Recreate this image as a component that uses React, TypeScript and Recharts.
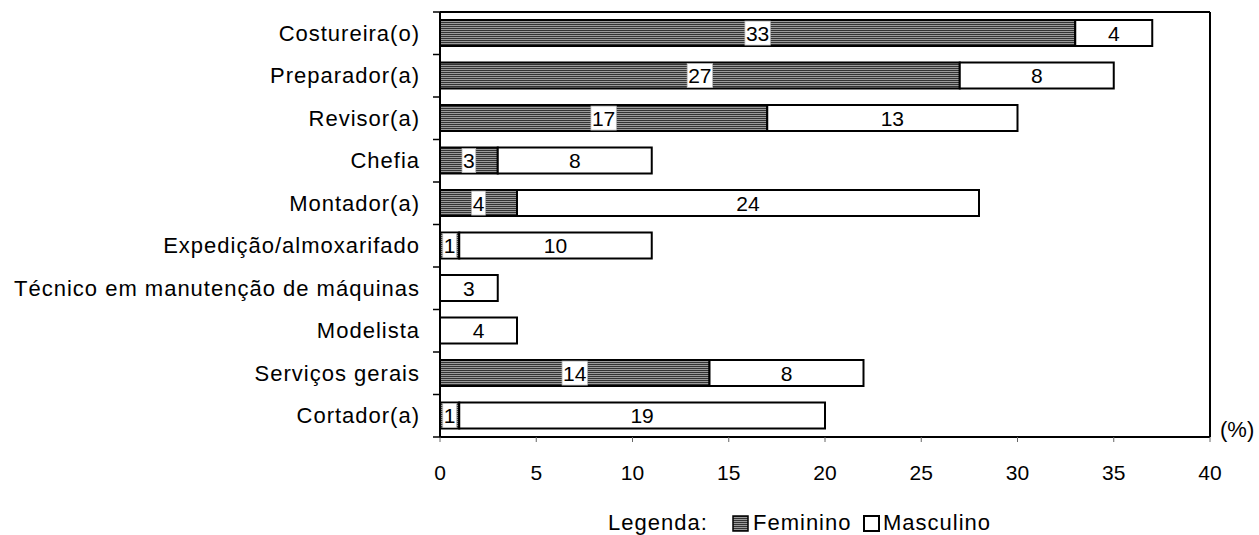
import { BarChart, Bar, XAxis, YAxis, LabelList } from 'recharts';

const categories = [
  'Costureira(o)',
  'Preparador(a)',
  'Revisor(a)',
  'Chefia',
  'Montador(a)',
  'Expedição/almoxarifado',
  'Técnico em manutenção de máquinas',
  'Modelista',
  'Serviços gerais',
  'Cortador(a)',
];
const feminino = [33, 27, 17, 3, 4, 1, 0, 0, 14, 1];
const masculino = [4, 8, 13, 8, 24, 10, 3, 4, 8, 19];
const xTicks = [0, 5, 10, 15, 20, 25, 30, 35, 40];

const data = categories.map((name, i) => ({
  name,
  feminino: feminino[i],
  masculino: masculino[i],
}));

const FONT = '"Liberation Sans", Arial, sans-serif';
const LABEL_GAP = 20;

function FemLabel(props: any) {
  const { x, y, width, height, value } = props;
  if (!value) return null;
  const cx = x + width / 2;
  const w = String(value).length * 11.7 + 2;
  return (
    <g>
      <rect x={cx - w / 2} y={y + 1} width={w} height={height - 2} fill="#fff" stroke="#bbb" strokeWidth={0.75} />
      <text x={cx} y={y + height / 2 + 7.5} textAnchor="middle" fontSize={21} fontFamily={FONT} fill="#000">
        {value}
      </text>
    </g>
  );
}

function MascLabel(props: any) {
  const { x, y, width, height, value } = props;
  if (!value) return null;
  return (
    <text x={x + width / 2} y={y + height / 2 + 7.5} textAnchor="middle" fontSize={21} fontFamily={FONT} fill="#000">
      {value}
    </text>
  );
}

// category label plus Excel-style tick marks on the band edges
function CatTick(props: any) {
  const { x, y, payload, index } = props;
  const half = payload?.offset ?? 0;
  const ax = x + LABEL_GAP;
  const last = index === categories.length - 1;
  return (
    <g>
      <line x1={ax - 7} x2={ax} y1={y - half} y2={y - half} stroke="#000" strokeWidth={1.5} />
      {last && <line x1={ax - 7} x2={ax} y1={y + half} y2={y + half} stroke="#000" strokeWidth={1.5} />}
      <text x={x} y={y + 7.5} textAnchor="end" fontSize={22} letterSpacing={1} fontFamily={FONT} fill="#000">
        {payload.value}
      </text>
    </g>
  );
}

export default function App() {
  return (
    <div style={{ position: 'absolute', left: 0, top: 0, width: 1259, height: 535, background: '#fff' }}>
      <BarChart
        width={1259}
        height={535}
        data={data}
        layout="vertical"
        barCategoryGap="19%"
        margin={{ top: 11, right: 48, left: 0, bottom: 58 }}
      >
        <defs>
          <pattern id="femStripes" patternUnits="userSpaceOnUse" width={4} height={2}>
            <rect x={0} y={0} width={4} height={1} fill="#333" />
            <rect x={0} y={1} width={4} height={1} fill="#9a9a9a" />
          </pattern>
        </defs>
        <XAxis
          type="number"
          domain={[0, 40]}
          ticks={xTicks}
          height={40}
          tickSize={5}
          tickMargin={23}
          axisLine={{ stroke: '#000', strokeWidth: 2 }}
          tickLine={{ stroke: '#666', strokeWidth: 1 }}
          tick={{ fill: '#000', fontSize: 21, fontFamily: FONT }}
        />
        <XAxis
          xAxisId="top"
          orientation="top"
          type="number"
          domain={[0, 40]}
          height={1}
          tick={false}
          tickLine={false}
          axisLine={{ stroke: '#000', strokeWidth: 2 }}
        />
        <YAxis
          type="category"
          dataKey="name"
          width={440}
          tickSize={0}
          tickMargin={LABEL_GAP}
          interval={0}
          axisLine={{ stroke: '#000', strokeWidth: 2 }}
          tickLine={false}
          tick={CatTick}
        />
        <YAxis
          yAxisId="right"
          orientation="right"
          type="number"
          domain={[0, 1]}
          width={1}
          tick={false}
          tickLine={false}
          axisLine={{ stroke: '#000', strokeWidth: 2 }}
        />
        <Bar dataKey="feminino" stackId="a" fill="url(#femStripes)" stroke="#000" strokeWidth={2} isAnimationActive={false}>
          <LabelList dataKey="feminino" content={FemLabel} />
        </Bar>
        <Bar dataKey="masculino" stackId="a" fill="#fff" stroke="#000" strokeWidth={2} isAnimationActive={false}>
          <LabelList dataKey="masculino" content={MascLabel} />
        </Bar>
      </BarChart>
      <svg
        width={1259}
        height={535}
        style={{ position: 'absolute', left: 0, top: 0, pointerEvents: 'none' }}
        fontFamily={FONT}
      >
        <defs>
          <pattern id="femStripesLegend" patternUnits="userSpaceOnUse" width={4} height={2}>
            <rect x={0} y={0} width={4} height={1} fill="#333" />
            <rect x={0} y={1} width={4} height={1} fill="#9a9a9a" />
          </pattern>
        </defs>
        <text x={1220} y={437} fontSize={22} fill="#000">(%)</text>
        <text x={608} y={530} fontSize={22} letterSpacing={1} fill="#000">Legenda:</text>
        <rect x={733} y={516} width={15} height={15} fill="url(#femStripesLegend)" stroke="#000" strokeWidth={1.5} />
        <text x={753} y={530} fontSize={22} letterSpacing={1} fill="#000">Feminino</text>
        <rect x={864} y={516} width={15} height={15} fill="#fff" stroke="#000" strokeWidth={2} />
        <text x={883} y={530} fontSize={22} letterSpacing={1} fill="#000">Masculino</text>
      </svg>
    </div>
  );
}
